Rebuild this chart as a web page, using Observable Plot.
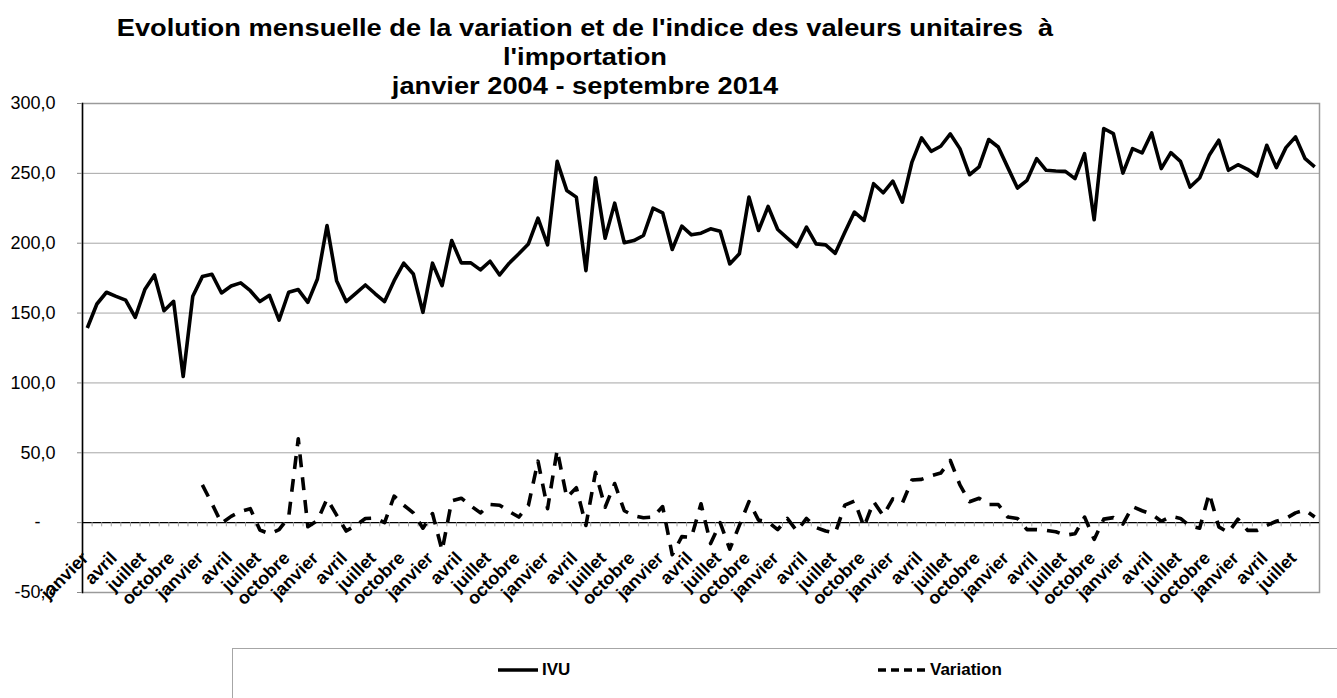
<!DOCTYPE html>
<html>
<head>
<meta charset="utf-8">
<script src="https://cdn.jsdelivr.net/npm/d3@7"></script>
<script src="https://cdn.jsdelivr.net/npm/@observablehq/plot@0.6"></script>
<style>
  body { margin: 0; background: #fff; font-family: "Liberation Sans", Arial, sans-serif; }
  #wrap { position: relative; width: 1337px; height: 698px; overflow: hidden; background: #fff; }
  #chart { position: absolute; left: 0; top: 0; }
  #title { position: absolute; left: 0; top: 14px; width: 1170px; text-align: center;
           font-weight: bold; font-size: 23px; line-height: 29px; color: #000; }
  #title div { transform: scaleX(1.185); transform-origin: 585px 50%; white-space: pre; }
  #legend { position: absolute; left: 232px; top: 648px; width: 1200px; height: 100px;
            border: 1px solid #a6a6a6; box-sizing: border-box; }
  .lg-item { position: absolute; top: 10px; height: 22px; display: flex; align-items: center;
             font-weight: bold; font-size: 17px; color: #000; }
</style>
</head>
<body>
<div id="wrap">
  <div id="chart"></div>
  <div id="title">
    <div>Evolution mensuelle de la variation et de l'indice des valeurs unitaires  à</div>
    <div>l'importation</div>
    <div>janvier 2004 - septembre 2014</div>
  </div>
  <div id="legend"></div>
</div>
<script>
// ---- Data ----
const monthNames = ["janvier","février","mars","avril","mai","juin","juillet","août","septembre","octobre","novembre","décembre"];
const years = [2004,2005,2006,2007,2008,2009,2010,2011,2012,2013,2014];

// Indice des valeurs unitaires (IVU), janvier 2004 - septembre 2014
const ivu = [
  139.3, 156.5, 164.9, 162.0, 159.3, 146.9, 166.8, 177.3, 151.7, 158.4, 104.6, 162.0, // 2004
  176.1, 177.8, 164.4, 169.4, 171.6, 166.0, 158.2, 162.7, 145.0, 164.9, 166.8, 157.7, // 2005
  174.4, 212.7, 173.2, 158.2, 164.1, 170.1, 164.0, 158.2, 173.2, 185.7, 178.0, 150.5, // 2006
  185.7, 169.6, 201.9, 185.9, 185.9, 180.9, 187.1, 177.3, 185.7, 192.4, 199.5, 218.0, // 2007
  198.8, 258.6, 237.8, 233.0, 180.4, 246.9, 203.6, 228.7, 200.3, 201.9, 205.5, 225.1, // 2008
  221.8, 195.5, 212.2, 206.0, 207.2, 210.3, 208.6, 185.2, 192.4, 233.0, 209.1, 226.3, // 2009
  209.8, 203.6, 197.6, 211.5, 199.5, 198.8, 192.8, 207.9, 222.3, 216.3, 242.6, 236.1, // 2010
  244.5, 229.4, 258.1, 275.4, 265.8, 269.4, 278.2, 267.7, 249.0, 254.6, 274.2, 268.9, // 2011
  254.1, 239.5, 245.0, 260.5, 252.2, 251.7, 251.4, 246.2, 264.1, 216.8, 282.1, 278.5, // 2012
  250.2, 267.7, 264.6, 278.9, 253.4, 264.8, 258.6, 240.2, 246.7, 262.9, 273.7, 252.2, // 2013
  256.2, 252.9, 248.1, 270.1, 254.1, 268.4, 276.1, 260.5, 254.6                        // 2014
];

// Variation (%), no value in 2004
const variation = [
  null, null, null, null, null, null, null, null, null, null, null, null,            // 2004
  27.0, 13.6, -0.5, 4.5, 8.0, 10.0, -5.3, -8.0, -5.0, 4.0, 60.0, -2.9,              // 2005
  1.5, 17.0, 5.4, -6.0, -2.0, 3.0, 3.3, 0.0, 19.0, 12.5, 7.0, -4.0,                 // 2006
  6.5, -20.0, 15.5, 17.5, 12.0, 7.0, 13.0, 12.5, 8.0, 4.0, 12.4, 44.0,              // 2007
  10.0, 52.0, 18.0, 25.0, -2.0, 36.0, 11.0, 28.0, 8.5, 5.0, 3.5, 4.0,               // 2008
  11.5, -23.0, -10.0, -10.5, 13.5, -15.0, 0.0, -19.0, -2.0, 15.0, 1.8, 0.5,         // 2009
  -5.0, 3.0, -6.0, 3.0, -3.5, -6.0, -7.5, 12.5, 15.5, -3.0, 15.0, 5.0,              // 2010
  17.0, 14.0, 30.5, 31.0, 33.5, 35.5, 44.5, 27.0, 15.0, 17.5, 13.0, 13.0,           // 2011
  4.0, 3.0, -5.0, -5.0, -5.5, -6.5, -9.0, -8.0, 4.0, -12.0, 2.5, 3.6,               // 2012
  -1.0, 11.5, 8.5, 6.0, 1.0, 4.5, 3.0, -2.5, -4.0, 21.0, -3.0, -7.0,                // 2013
  2.5, -5.5, -5.5, -2.0, 1.0, 3.0, 7.0, 9.0, 4.0                                    // 2014
];

const yTicks = [-50, 0, 50, 100, 150, 200, 250, 300];
const gridValues = [50, 100, 150, 200, 250, 300];
const labelMonths = ["janvier", "avril", "juillet", "octobre"];

// ---- Table built from the arrays ----
const rows = ivu.map((v, i) => ({
  i,
  year: years[Math.floor(i / 12)],
  month: monthNames[i % 12],
  ivu: v,
  variation: variation[i]
}));
const labelRows = rows.filter(d => labelMonths.includes(d.month));
const boundaries = rows.slice(1).map(d => d.i - 0.5);

const fmt = v => v === 0 ? "-\u2008\u2007" : v.toFixed(1).replace(".", ",");

const chart = Plot.plot({
  width: 1337,
  height: 640,
  marginTop: 103,
  marginBottom: 48,
  marginLeft: 82,
  marginRight: 18,
  style: { fontFamily: "'Liberation Sans', Arial, sans-serif", background: "#fff", color: "#000" },
  x: { type: "linear", domain: [-0.5, rows.length - 0.5], axis: null },
  y: { domain: [-50, 300], axis: null },
  marks: [
    Plot.ruleY(gridValues, { stroke: "#a6a6a6", strokeWidth: 1 }),
    Plot.frame({ stroke: "#9a9a9a", strokeWidth: 1.5 }),
    Plot.frame({ anchor: "left", stroke: "#000", strokeWidth: 1.5 }),
    Plot.ruleY([0], { stroke: "#000", strokeWidth: 1.2 }),
    Plot.ruleX(boundaries, { y1: 0, y2: -3, stroke: "#a0a0a0", strokeWidth: 1 }),
    Plot.axisY(yTicks, {
      tickSize: 5, tickPadding: 22, tickFormat: fmt, fontSize: 18,
      stroke: "#888", fill: "#000"
    }),
    Plot.line(rows, {
      x: "i", y: "ivu", stroke: "#000", strokeWidth: 3.6,
      strokeLinejoin: "round", strokeLinecap: "butt"
    }),
    Plot.line(rows, {
      x: "i", y: "variation", stroke: "#000", strokeWidth: 3.6,
      strokeDasharray: "13,10", strokeLinejoin: "round", strokeLinecap: "butt"
    }),
    Plot.text(labelRows, {
      x: "i", y: () => 0, text: "month", rotate: -45, textAnchor: "end",
      dx: -2, dy: 32.5, fontSize: 18, fontWeight: "bold", fill: "#000"
    })
  ]
});
document.getElementById("chart").appendChild(chart);

// ---- Legend ----
const legend = document.getElementById("legend");
const legendItems = [
  { name: "IVU", dash: null, left: 265, w: 40 },
  { name: "Variation", dash: "8,5", left: 645, w: 48 }
];
for (const it of legendItems) {
  const el = document.createElement("div");
  el.className = "lg-item";
  el.style.left = it.left + "px";
  el.innerHTML =
    `<svg width="${it.w}" height="8" style="margin-right:4px"><line x1="0" y1="4" x2="${it.w}" y2="4" stroke="#000" stroke-width="3.5"${it.dash ? ` stroke-dasharray="${it.dash}"` : ""}/></svg><span>${it.name}</span>`;
  legend.appendChild(el);
}
</script>
</body>
</html>
